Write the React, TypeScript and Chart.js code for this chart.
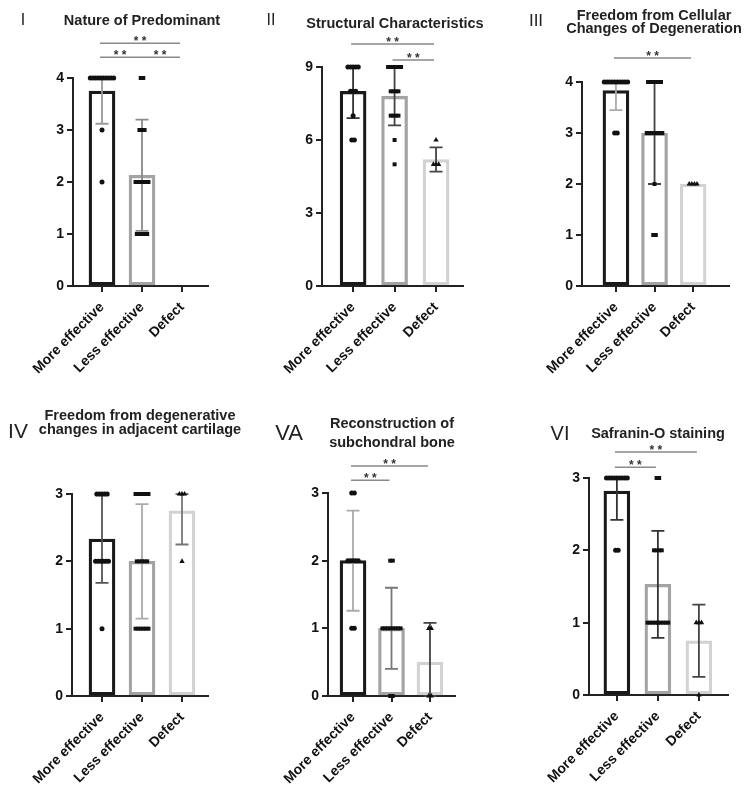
import React, { useEffect, useRef } from "react";
import { Chart, registerables } from "chart.js";

Chart.register(...registerables);
Chart.defaults.font.family = '"Liberation Sans", Arial, Helvetica, sans-serif';

const categories = ["More effective", "Less effective", "Defect"];

// Panel I – Nature of Predominant
const p1Means = [3.75, 2.13, 0];
const p1Sds = [0.63, 1.07, 0];
const p1More = [4, 4, 4, 4, 4, 4, 4, 4, 4, 4, 3, 2];
const p1Less = [4, 4, 3, 3, 3, 2, 2, 2, 2, 2, 2, 1, 1, 1, 1, 1];
const p1Defect: number[] = [];

// Panel II – Structural Characteristics
const p2Means = [8.0, 7.8, 5.2];
const p2Sds = [1.1, 1.2, 0.5];
const p2More = [9, 9, 9, 9, 9, 8, 8, 8, 7, 6, 6];
const p2Less = [9, 9, 9, 9, 9, 9, 8, 8, 8, 8, 7, 7, 7, 7, 6, 5];
const p2Defect = [6, 5, 5, 5];

// Panel III – Freedom from Cellular Changes of Degeneration
const p3Means = [3.83, 3.0, 2.0];
const p3Sds = [0.38, 1.0, 0];
const p3More = [4, 4, 4, 4, 4, 4, 4, 4, 4, 4, 3, 3];
const p3Less = [4, 4, 4, 4, 4, 4, 3, 3, 3, 3, 3, 3, 3, 2, 1, 1];
const p3Defect = [2, 2, 2, 2];

// Panel IV – Freedom from degenerative changes in adjacent cartilage
const p4Means = [2.33, 2.0, 2.75];
const p4Sds = [0.65, 0.85, 0.5];
const p4More = [3, 3, 3, 3, 3, 2, 2, 2, 2, 2, 2, 1];
const p4Less = [3, 3, 3, 3, 3, 3, 2, 2, 2, 2, 2, 1, 1, 1, 1, 1, 1];
const p4Defect = [3, 3, 3, 2];

// Panel VA – Reconstruction of subchondral bone
const p5Means = [2.0, 1.0, 0.5];
const p5Sds = [0.74, 0.6, 0.58];
const p5More = [3, 3, 2, 2, 2, 2, 2, 1, 1];
const p5Less = [2, 2, 1, 1, 1, 1, 1, 1, 1, 1, 0, 0];
const p5Defect = [1, 1, 0, 0];

// Panel VI – Safranin-O staining
const p6Means = [2.82, 1.53, 0.75];
const p6Sds = [0.4, 0.74, 0.5];
const p6More = [3, 3, 3, 3, 3, 3, 3, 3, 3, 2, 2];
const p6Less = [3, 3, 2, 2, 2, 2, 1, 1, 1, 1, 1, 1, 1, 1, 1];
const p6Defect = [1, 1, 1, 0];

type Bracket = { a: number; b: number; y: number };
type Box = { x: number; y: number; w: number; h: number };
type Area = { l: number; r: number; t: number; b: number };
type PanelCfg = {
  roman: string;
  romanPos: [number, number, number];
  title: string[];
  titlePos: [number, number, number];
  means: number[];
  sds: number[];
  points: number[][];
  yMax: number;
  yStep: number;
  xMin: number;
  xMax: number;
  brackets: Bracket[];
  errColors: string[];
  cell: Box;
  area: Area;
};

const barColors = ["#1a1a1a", "#a3a3a3", "#d2d2d2"];
const pointStyles = ["circle", "rect", "triangle"];
const pointRadius = [2.5, 2.8, 3.1];

const panels: PanelCfg[] = [
  {
    roman: "I", romanPos: [23, 20, 16],
    title: ["Nature of Predominant"], titlePos: [142, 20, 14],
    means: p1Means, sds: p1Sds, points: [p1More, p1Less, p1Defect],
    yMax: 4, yStep: 1, xMin: -0.725, xMax: 2.65,
    brackets: [{ a: 0, b: 1, y: 4.4 }, { a: 1, b: 2, y: 4.4 }, { a: 0, b: 2, y: 4.67 }],
    errColors: ["#9a9a9a", "#8a8a8a", "#555"],
    cell: { x: 0, y: 0, w: 248, h: 400 }, area: { l: 73, r: 208, t: 78, b: 286 },
  },
  {
    roman: "II", romanPos: [271, 20, 16],
    title: ["Structural Characteristics"], titlePos: [395, 23, 14],
    means: p2Means, sds: p2Sds, points: [p2More, p2Less, p2Defect],
    yMax: 9, yStep: 3, xMin: -0.75, xMax: 2.65,
    brackets: [{ a: 1, b: 2, y: 9.29 }, { a: 0, b: 2, y: 9.95 }],
    errColors: ["#333", "#444", "#444"],
    cell: { x: 250, y: 0, w: 246, h: 400 }, area: { l: 322, r: 463, t: 67, b: 286 },
  },
  {
    roman: "III", romanPos: [536, 20, 17],
    title: ["Freedom from Cellular", "Changes of Degeneration"], titlePos: [654, 21.5, 13.5],
    means: p3Means, sds: p3Sds, points: [p3More, p3Less, p3Defect],
    yMax: 4, yStep: 1, xMin: -0.88, xMax: 2.93,
    brackets: [{ a: 0, b: 2, y: 4.47 }],
    errColors: ["#aaaaaa", "#444", "#555"],
    cell: { x: 496, y: 0, w: 250, h: 400 }, area: { l: 582, r: 729, t: 82, b: 286 },
  },
  {
    roman: "IV", romanPos: [18, 430, 21],
    title: ["Freedom from degenerative", "changes in adjacent cartilage"], titlePos: [140, 421.5, 14],
    means: p4Means, sds: p4Sds, points: [p4More, p4Less, p4Defect],
    yMax: 3, yStep: 1, xMin: -0.75, xMax: 2.65,
    brackets: [],
    errColors: ["#555", "#aaaaaa", "#777"],
    cell: { x: 0, y: 400, w: 248, h: 403 }, area: { l: 72, r: 208, t: 494, b: 696 },
  },
  {
    roman: "VA", romanPos: [289, 433, 22],
    title: ["Reconstruction of", "subchondral bone"], titlePos: [392, 433, 19],
    means: p5Means, sds: p5Sds, points: [p5More, p5Less, p5Defect],
    yMax: 3, yStep: 1, xMin: -0.65, xMax: 2.65,
    brackets: [{ a: 0, b: 1, y: 3.19 }, { a: 0, b: 2, y: 3.4 }],
    errColors: ["#aaaaaa", "#777", "#444"],
    cell: { x: 250, y: 400, w: 246, h: 403 }, area: { l: 328, r: 455, t: 493, b: 696 },
  },
  {
    roman: "VI", romanPos: [560, 433, 20],
    title: ["Safranin-O staining"], titlePos: [658, 433, 14],
    means: p6Means, sds: p6Sds, points: [p6More, p6Less, p6Defect],
    yMax: 3, yStep: 1, xMin: -0.68, xMax: 2.71,
    brackets: [{ a: 0, b: 1, y: 3.15 }, { a: 0, b: 2, y: 3.36 }],
    errColors: ["#333", "#333", "#444"],
    cell: { x: 496, y: 400, w: 250, h: 403 }, area: { l: 589, r: 728, t: 478, b: 695 },
  },
];

// horizontal spreading of tied values (computed, not data)
function spread(values: number[], group: number, step: number) {
  const counts: Record<string, number> = {};
  values.forEach((v) => (counts[v] = (counts[v] || 0) + 1));
  const seen: Record<string, number> = {};
  return values.map((v) => {
    const n = counts[v];
    const k = seen[v] || 0;
    seen[v] = k + 1;
    return { x: group + (k - (n - 1) / 2) * step, y: v };
  });
}

function Panel({ cfg }: { cfg: PanelCfg }) {
  const ref = useRef<HTMLCanvasElement | null>(null);
  useEffect(() => {
    const canvas = ref.current;
    if (!canvas) return;
    const { cell, area } = cfg;
    const pxPerUnit = (area.r - area.l) / (cfg.xMax - cfg.xMin);
    const step = 2.6 / pxPerUnit;

    const overlay = {
      id: "overlay" + cfg.roman,
      afterDatasetDraw(chart: any, args: any) {
        if (args.index !== 0) return;
        const ctx = chart.ctx;
        const xs = chart.scales.x;
        const ys = chart.scales.y;
        ctx.save();
        cfg.means.forEach((m, i) => {
          const sd = cfg.sds[i];
          if (!sd) return;
          const lo = Math.max(0, m - sd);
          const hi = Math.min(cfg.yMax, m + sd);
          const x = xs.getPixelForValue(i);
          const yl = ys.getPixelForValue(lo);
          const yh = ys.getPixelForValue(hi);
          ctx.strokeStyle = cfg.errColors[i];
          ctx.lineWidth = 1.8;
          ctx.beginPath();
          ctx.moveTo(x, yl);
          ctx.lineTo(x, yh);
          ctx.moveTo(x - 6.5, yl);
          ctx.lineTo(x + 6.5, yl);
          ctx.moveTo(x - 6.5, yh);
          ctx.lineTo(x + 6.5, yh);
          ctx.stroke();
        });
        ctx.restore();
      },
      afterDraw(chart: any) {
        const ctx = chart.ctx;
        const xs = chart.scales.x;
        const ys = chart.scales.y;
        ctx.save();
        cfg.brackets.forEach((br) => {
          const x1 = xs.getPixelForValue(br.a) - 2;
          const x2 = xs.getPixelForValue(br.b) - 2;
          const y = ys.getPixelForValue(br.y);
          ctx.strokeStyle = "#8a8a8a";
          ctx.lineWidth = 1.5;
          ctx.beginPath();
          ctx.moveTo(x1, y);
          ctx.lineTo(x2, y);
          ctx.stroke();
          ctx.fillStyle = "#333";
          ctx.font = 'bold 12px "Liberation Sans", Arial, sans-serif';
          ctx.textAlign = "center";
          ctx.textBaseline = "alphabetic";
          ctx.fillText("* *", (x1 + x2) / 2, y + 2);
        });
        ctx.restore();
      },
    };

    const datasets: any[] = [
      {
        type: "bar",
        data: cfg.means.map((m, i) => ({ x: i, y: m === 0 ? null : m })),
        backgroundColor: "rgba(255,255,255,0)",
        borderColor: barColors,
        borderWidth: 2.6,
        borderSkipped: false,
        barThickness: 26,
        order: 5,
        clip: false,
      },
    ];
    cfg.points.forEach((vals, g) => {
      datasets.push({
        type: "scatter",
        data: spread(vals, g, step),
        pointStyle: pointStyles[g],
        pointRadius: pointRadius[g],
        pointBackgroundColor: "#111",
        pointBorderColor: "#111",
        pointBorderWidth: 0,
        showLine: false,
        order: 1,
        clip: false,
      });
    });

    const chart = new Chart(canvas, {
      type: "bar",
      data: { datasets },
      options: {
        animation: false,
        responsive: false,
        maintainAspectRatio: false,
        events: [],
        layout: {
          padding: {
            left: 0,
            top: area.t - cell.y,
            right: cell.x + cell.w - area.r,
            bottom: 0,
          },
        },
        plugins: { legend: { display: false }, tooltip: { enabled: false }, title: { display: false } },
        scales: {
          x: {
            type: "linear",
            min: cfg.xMin,
            max: cfg.xMax,
            offset: false,
            afterBuildTicks: (scale: any) => {
              scale.ticks = categories.map((_, i) => ({ value: i }));
            },
            afterFit: (scale: any) => {
              scale.height = cell.y + cell.h - area.b;
            },
            ticks: {
              autoSkip: false,
              maxRotation: 45,
              minRotation: 45,
              padding: 7,
              color: "#111",
              font: { size: 14, weight: "bold" },
              callback: (v: any) => categories[v as number] ?? "",
            },
            grid: { offset: false, drawOnChartArea: false, drawTicks: true, tickLength: 6, color: "#222", lineWidth: 2 },
            border: { display: true, color: "#222", width: 2 },
          },
          y: {
            type: "linear",
            min: 0,
            max: cfg.yMax,
            afterFit: (scale: any) => {
              scale.width = area.l - cell.x;
            },
            ticks: {
              stepSize: cfg.yStep,
              padding: 3,
              color: "#111",
              font: { size: 14, weight: "bold" },
            },
            grid: { drawOnChartArea: false, drawTicks: true, tickLength: 6, color: "#222", lineWidth: 2 },
            border: { display: true, color: "#222", width: 2 },
          },
        },
      },
      plugins: [overlay],
    } as any);
    return () => chart.destroy();
  }, [cfg]);

  const { cell } = cfg;
  return (
    <>
      <canvas
        ref={ref}
        width={cell.w}
        height={cell.h}
        style={{ position: "absolute", left: cell.x, top: cell.y, width: cell.w, height: cell.h }}
      />
      <div
        style={{
          position: "absolute",
          left: cfg.romanPos[0],
          top: cfg.romanPos[1],
          transform: "translate(-50%, -50%)",
          fontSize: cfg.romanPos[2],
          fontFamily: '"Liberation Sans", Arial, sans-serif',
          color: "#222",
          lineHeight: 1,
          whiteSpace: "nowrap",
        }}
      >
        {cfg.roman}
      </div>
      <div
        style={{
          position: "absolute",
          left: cfg.titlePos[0],
          top: cfg.titlePos[1],
          transform: "translate(-50%, -50%)",
          fontSize: 14.5,
          fontWeight: "bold",
          fontFamily: '"Liberation Sans", Arial, sans-serif',
          color: "#222",
          lineHeight: cfg.titlePos[2] + "px",
          textAlign: "center",
          whiteSpace: "nowrap",
        }}
      >
        {cfg.title.map((t, i) => (
          <div key={i}>{t}</div>
        ))}
      </div>
    </>
  );
}

export default function App() {
  return (
    <div
      style={{
        position: "absolute",
        left: 0,
        top: 0,
        width: 746,
        height: 803,
        background: "#fff",
        overflow: "hidden",
      }}
    >
      {panels.map((p) => (
        <Panel key={p.roman} cfg={p} />
      ))}
    </div>
  );
}
